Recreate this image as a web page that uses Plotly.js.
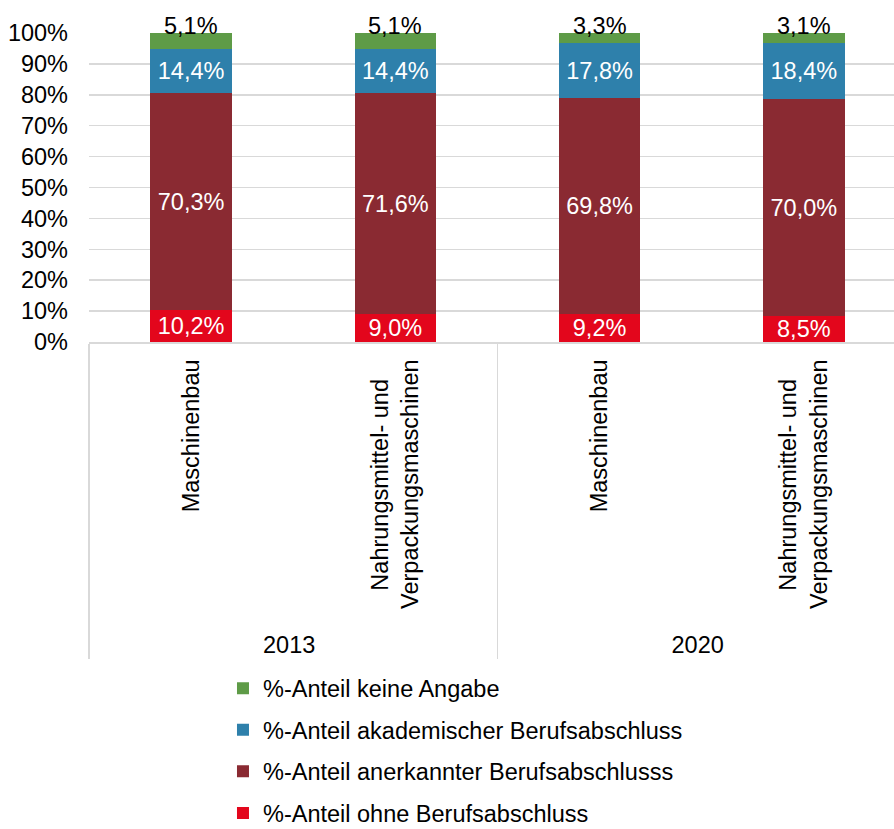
<!DOCTYPE html>
<html>
<head>
<meta charset="utf-8">
<script src="https://cdn.plot.ly/plotly-3.0.1.min.js"></script>
<style>
  html, body { margin: 0; padding: 0; overflow: hidden; background: #ffffff; }
  #chart { width: 910px; height: 850px; }
</style>
</head>
<body>
<div id="chart"></div>
<script>
// ---- data ----
const years = ['2013', '2013', '2020', '2020'];
const branchLines = [
  ['Maschinenbau'],
  ['Nahrungsmittel- und', 'Verpackungsmaschinen'],
  ['Maschinenbau'],
  ['Nahrungsmittel- und', 'Verpackungsmaschinen']
];

const ohneBerufsabschluss = [10.2, 9.0, 9.2, 8.5];
const anerkannterBerufsabschluss = [70.3, 71.6, 69.8, 70.0];
const akademischerBerufsabschluss = [14.4, 14.4, 17.8, 18.4];
const keineAngabe = [5.1, 5.1, 3.3, 3.1];

const seriesNames = [
  '%-Anteil ohne Berufsabschluss',
  '%-Anteil anerkannter Berufsabschlusss',
  '%-Anteil akademischer Berufsabschluss',
  '%-Anteil keine Angabe'
];
const yTickVals = [0, 10, 20, 30, 40, 50, 60, 70, 80, 90, 100];
const yTickText = ['0%', '10%', '20%', '30%', '40%', '50%', '60%', '70%', '80%', '90%', '100%'];

// ---- styling ----
const colors = ['#E3061C', '#8A2A32', '#2E80AB', '#5E9B47'];
const FONT = 'Liberation Sans, Arial, sans-serif';
const FS = 23.5;
const GRID = '#D9D9D9';

const fmt = v => v.toFixed(1).replace('.', ',') + '%';

// rotated labels are end-anchored at the axis: a trailing no-break space keeps
// them a little further from the axis, extra ones centre the shorter line
const NB = '\u00A0';
function labelText(lines) {
  if (lines.length < 2) return lines[0] + NB;
  return lines[0] + NB + NB + NB + NB + '<br>' + lines[1] + NB;
}
const branches = branchLines.map(labelText);

const seriesValues = [ohneBerufsabschluss, anerkannterBerufsabschluss, akademischerBerufsabschluss, keineAngabe];

const traces = seriesValues.map((vals, i) => {
  const isTop = i === 3;
  return {
    type: 'bar',
    name: seriesNames[i],
    legendgroup: 'g' + i,
    legendrank: seriesValues.length - i,
    x: [years, branches],
    y: vals,
    text: vals.map(fmt),
    texttemplate: '%{text}',
    textposition: isTop ? 'none' : 'inside',
    insidetextanchor: 'middle',
    constraintext: 'none',
    cliponaxis: false,
    textfont: { family: FONT, size: FS, color: '#FFFFFF' },
    marker: { color: colors[i], line: { width: 0 } },
    hoverinfo: 'skip'
  };
});

// labels above the top segment (100% stacked, so the stack top is 100)
const topLabels = keineAngabe.map((v, i) => ({
  xref: 'x',
  yref: 'y',
  x: i,
  y: 100,
  text: fmt(v),
  showarrow: false,
  xanchor: 'center',
  yanchor: 'bottom',
  yshift: -8,
  font: { family: FONT, size: FS, color: '#000000' }
}));

const layout = {
  width: 910,
  height: 850,
  paper_bgcolor: '#FFFFFF',
  plot_bgcolor: '#FFFFFF',
  font: { family: FONT, size: FS, color: '#000000' },
  margin: { l: 89, r: 4, t: 33, b: 508, autoexpand: false },
  barmode: 'stack',
  barnorm: 'percent',
  bargap: 0.6,
  showlegend: true,
  annotations: topLabels,
  legend: {
    traceorder: 'grouped',
    orientation: 'v',
    x: 0.164,
    xanchor: 'left',
    y: -1.05,
    yanchor: 'top',
    tracegroupgap: 8,
    font: { family: FONT, size: FS, color: '#000000' },
    bgcolor: 'rgba(0,0,0,0)'
  },
  xaxis: {
    type: 'multicategory',
    tickangle: -90,
    ticks: '',
    showline: true,
    linecolor: GRID,
    linewidth: 1.5,
    showgrid: false,
    showdividers: true,
    dividercolor: GRID,
    dividerwidth: 1.5,
    tickfont: { family: FONT, size: FS, color: '#000000' },
    range: [-0.5, 3.5]
  },
  yaxis: {
    range: [0, 100],
    tickvals: yTickVals,
    ticktext: yTickText,
    ticks: '',
    showline: false,
    showgrid: true,
    gridcolor: GRID,
    gridwidth: 1.5,
    zeroline: false,
    ticklabelstandoff: 20,
    tickfont: { family: FONT, size: FS, color: '#000000' }
  }
};

Plotly.newPlot('chart', traces, layout, { displayModeBar: false, staticPlot: true });
</script>
</body>
</html>
